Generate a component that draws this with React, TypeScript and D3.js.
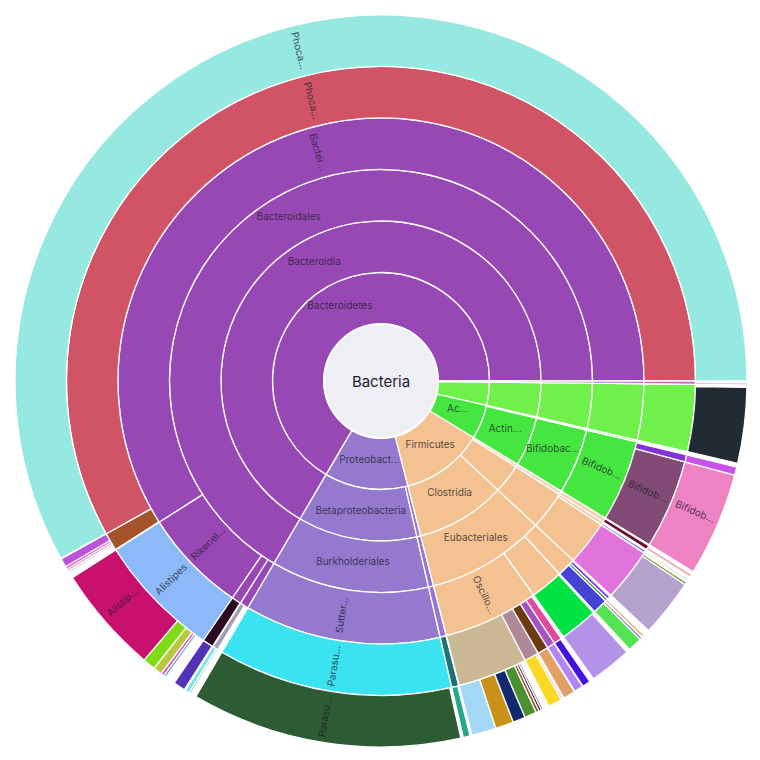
import React, { useMemo } from "react";
import * as d3 from "d3";

// ---------- data (abundance units: total 3600) ----------
const rootName = "Bacteria";
const rootTotal = 3600;

type Row3 = [string, string, number];

const phyla: Row3[] = [
  ["Bacteroidetes", "Bacteria", 2396],
  ["Proteobacteria", "Bacteria", 448],
  ["Firmicutes", "Bacteria", 442],
  ["Actinobacteria", "Bacteria", 184],
  ["Verrucomicrobia", "Bacteria", 124],
  ["Desulfobacterota", "Bacteria", 6],
];

const classes: Row3[] = [
  ["Bacteroidia", "Bacteroidetes", 2396],
  ["Betaproteobacteria", "Proteobacteria", 434],
  ["Gammaproteobacteria", "Proteobacteria", 14],
  ["Clostridia", "Firmicutes", 326],
  ["Bacilli", "Firmicutes", 106],
  ["Erysipelotrichia", "Firmicutes", 10],
  ["Actinomycetia", "Actinobacteria", 180],
  ["Coriobacteriia", "Actinobacteria", 4],
  ["Verrucomicrobiae", "Verrucomicrobia", 124],
  ["Desulfovibrionia", "Desulfobacterota", 6],
];

const orders: Row3[] = [
  ["Bacteroidales", "Bacteroidia", 2396],
  ["Burkholderiales", "Betaproteobacteria", 434],
  ["Enterobacterales", "Gammaproteobacteria", 14],
  ["Eubacteriales", "Clostridia", 326],
  ["Lactobacillales", "Bacilli", 106],
  ["Erysipelotrichales", "Erysipelotrichia", 10],
  ["Bifidobacteriales", "Actinomycetia", 180],
  ["Coriobacteriales", "Coriobacteriia", 4],
  ["Verrucomicrobiales", "Verrucomicrobiae", 124],
  ["Desulfovibrionales", "Desulfovibrionia", 6],
];

const families: Row3[] = [
  ["Bacteroidaceae", "Bacteroidales", 2125],
  ["Rikenellaceae", "Bacteroidales", 231],
  ["Tannerellaceae", "Bacteroidales", 21],
  ["Barnesiellaceae", "Bacteroidales", 19],
  ["Sutterellaceae", "Burkholderiales", 434],
  ["Enterobacteriaceae", "Enterobacterales", 14],
  ["Oscillospiraceae", "Eubacteriales", 211],
  ["Lachnospiraceae", "Eubacteriales", 73],
  ["Ruminococcaceae", "Eubacteriales", 42],
  ["Streptococcaceae", "Lactobacillales", 99],
  ["Lactobacillaceae", "Lactobacillales", 7],
  ["Erysipelotrichaceae", "Erysipelotrichales", 10],
  ["Bifidobacteriaceae", "Bifidobacteriales", 180],
  ["Eggerthellaceae", "Coriobacteriales", 4],
  ["Akkermansiaceae", "Verrucomicrobiales", 124],
  ["Desulfovibrionaceae", "Desulfovibrionales", 6],
];

const genera: Row3[] = [
  ["Phocaeicola", "Bacteroidaceae", 2091],
  ["Bacteroides", "Bacteroidaceae", 33],
  ["Alistipes", "Rikenellaceae", 231],
  ["Parabacteroides", "Tannerellaceae", 20],
  ["Barnesiella", "Barnesiellaceae", 10],
  ["Parasutterella", "Sutterellaceae", 434],
  ["Escherichia", "Enterobacteriaceae", 13],
  ["Oscillibacter", "Oscillospiraceae", 129],
  ["Flavonifractor", "Oscillospiraceae", 27],
  ["Intestinimonas", "Oscillospiraceae", 20],
  ["Ruthenibacterium", "Oscillospiraceae", 15],
  ["Pseudoflavonifractor", "Oscillospiraceae", 15],
  ["Colidextribacter", "Oscillospiraceae", 3],
  ["Dysosmobacter", "Oscillospiraceae", 2],
  ["Blautia", "Lachnospiraceae", 70],
  ["Faecalibacterium", "Ruminococcaceae", 28],
  ["Ruminococcus", "Ruminococcaceae", 5],
  ["Gemmiger", "Ruminococcaceae", 6],
  ["Streptococcus", "Streptococcaceae", 98],
  ["Lactobacillus", "Lactobacillaceae", 4],
  ["Holdemanella", "Erysipelotrichaceae", 8],
  ["Bifidobacterium", "Bifidobacteriaceae", 165],
  ["Alloscardovia", "Bifidobacteriaceae", 13],
  ["Akkermansia", "Akkermansiaceae", 124],
  ["Bilophila", "Desulfovibrionaceae", 6],
];

const species: Row3[] = [
  ["Phocaeicola vulgatus", "Phocaeicola", 2090],
  ["Bacteroides uniformis", "Bacteroides", 14],
  ["Bacteroides ovatus", "Bacteroides", 4],
  ["Bacteroides fragilis", "Bacteroides", 4],
  ["Bacteroides caccae", "Bacteroides", 3],
  ["Alistipes putredinis", "Alistipes", 172],
  ["Alistipes onderdonkii", "Alistipes", 20],
  ["Alistipes shahii", "Alistipes", 14],
  ["Alistipes finegoldii", "Alistipes", 5],
  ["Alistipes indistinctus", "Alistipes", 4],
  ["Parabacteroides distasonis", "Parabacteroides", 19],
  ["Barnesiella intestinihominis", "Barnesiella", 7],
  ["Barnesiella viscericola", "Barnesiella", 3],
  ["Parasutterella excrementihominis", "Parasutterella", 430],
  ["Escherichia coli", "Escherichia", 11],
  ["Oscillibacter valericigenes", "Oscillibacter", 39],
  ["Oscillibacter ruminantium", "Oscillibacter", 29],
  ["Oscillibacter sp. ER4", "Oscillibacter", 20],
  ["Oscillibacter sp. PC13", "Oscillibacter", 19],
  ["Oscillibacter sp. 1-3", "Oscillibacter", 5],
  ["Oscillibacter sp. KLE1728", "Oscillibacter", 4],
  ["Oscillibacter sp. 57_20", "Oscillibacter", 3],
  ["Flavonifractor plautii", "Flavonifractor", 22],
  ["Flavonifractor sp. An10", "Flavonifractor", 3],
  ["Intestinimonas butyriciproducens", "Intestinimonas", 19],
  ["Ruthenibacterium lactatiformans", "Ruthenibacterium", 14],
  ["Pseudoflavonifractor capillosus", "Pseudoflavonifractor", 13],
  ["Colidextribacter massiliensis", "Colidextribacter", 2],
  ["Dysosmobacter welbionis", "Dysosmobacter", 2],
  ["Blautia wexlerae", "Blautia", 67],
  ["Faecalibacterium prausnitzii", "Faecalibacterium", 23],
  ["Faecalibacterium sp. A2", "Faecalibacterium", 4],
  ["Faecalibacterium sp. I3", "Faecalibacterium", 3],
  ["Ruminococcus bromii", "Ruminococcus", 4],
  ["Streptococcus salivarius", "Streptococcus", 92],
  ["Streptococcus parasanguinis", "Streptococcus", 4],
  ["Lactobacillus rogosae", "Lactobacillus", 3],
  ["Holdemanella biformis", "Holdemanella", 5],
  ["Bifidobacterium longum", "Bifidobacterium", 165],
  ["Alloscardovia omnicolens", "Alloscardovia", 13],
  ["Akkermansia muciniphila", "Akkermansia", 120],
  ["Bilophila wadsworthia", "Bilophila", 3],
  ["Bilophila sp. 4_1_30", "Bilophila", 2],
];

// label texts as shown in the chart (truncated where the chart truncates)
const shownLabels: Record<string, string> = {
  Bacteroidetes: "Bacteroidetes",
  Proteobacteria: "Proteobact...",
  Firmicutes: "Firmicutes",
  Actinobacteria: "Ac...",
  Bacteroidia: "Bacteroidia",
  Betaproteobacteria: "Betaproteobacteria",
  Clostridia: "Clostridia",
  Actinomycetia: "Actin...",
  Bacteroidales: "Bacteroidales",
  Burkholderiales: "Burkholderiales",
  Eubacteriales: "Eubacteriales",
  Bifidobacteriales: "Bifidobac...",
  Bacteroidaceae: "Bacter...",
  Rikenellaceae: "Rikenel...",
  Sutterellaceae: "Sutter...",
  Oscillospiraceae: "Oscillo...",
  Bifidobacteriaceae: "Bifidob...",
  Phocaeicola: "Phoca...",
  Alistipes: "Alistipes",
  Parasutterella: "Parasu...",
  Bifidobacterium: "Bifidob...",
  "Phocaeicola vulgatus": "Phoca...",
  "Alistipes putredinis": "Alistip...",
  "Parasutterella excrementihominis": "Parasu...",
  "Bifidobacterium longum": "Bifidob...",
};

const PURPLE = "#9848b4";
const LAVENDER = "#9479cf";
const PEACH = "#f4c191";
const GREEN = "#46e640";
const LIGHTGREEN = "#6ff04b";

const colors: Record<string, string> = {
  Bacteria: "#eeeef5",
  Bacteroidetes: PURPLE, Bacteroidia: PURPLE, Bacteroidales: PURPLE,
  Bacteroidaceae: PURPLE, Rikenellaceae: PURPLE, Tannerellaceae: PURPLE, Barnesiellaceae: PURPLE,
  Phocaeicola: "#d05466", "Phocaeicola vulgatus": "#96e9e0",
  Bacteroides: "#a4532a", "Bacteroides uniformis": "#bb52dc", "Bacteroides ovatus": "#e23ccc",
  "Bacteroides fragilis": "#f08ab8", "Bacteroides caccae": "#a8c4ec",
  Alistipes: "#8cb9f7", "Alistipes putredinis": "#c8116f", "Alistipes onderdonkii": "#7fdb16",
  "Alistipes shahii": "#b9c93e", "Alistipes finegoldii": "#f246d2", "Alistipes indistinctus": "#5aa9ac",
  Parabacteroides: "#2b0b22", "Parabacteroides distasonis": "#5233b6",
  Barnesiella: "#a49fb6", "Barnesiella intestinihominis": "#74e2f2", "Barnesiella viscericola": "#9fbf8e",
  Proteobacteria: LAVENDER, Betaproteobacteria: LAVENDER, Burkholderiales: LAVENDER, Sutterellaceae: LAVENDER,
  Gammaproteobacteria: LAVENDER, Enterobacterales: LAVENDER, Enterobacteriaceae: LAVENDER,
  Parasutterella: "#3be3f0", "Parasutterella excrementihominis": "#2d5b34",
  Escherichia: "#1b7372", "Escherichia coli": "#22a98a",
  Firmicutes: PEACH, Clostridia: PEACH, Eubacteriales: PEACH, Oscillospiraceae: PEACH,
  Lachnospiraceae: PEACH, Ruminococcaceae: PEACH, Bacilli: PEACH, Lactobacillales: PEACH,
  Streptococcaceae: PEACH, Lactobacillaceae: PEACH,
  Erysipelotrichia: "#f6d2b2", Erysipelotrichales: "#f6d2b2", Erysipelotrichaceae: "#f6d2b2",
  Oscillibacter: "#cbb894",
  "Oscillibacter valericigenes": "#a3d8f7", "Oscillibacter ruminantium": "#ca911a",
  "Oscillibacter sp. ER4": "#12296e", "Oscillibacter sp. PC13": "#4b9131",
  "Oscillibacter sp. 1-3": "#a1522f", "Oscillibacter sp. KLE1728": "#1d1a52", "Oscillibacter sp. 57_20": "#8a5a36",
  Flavonifractor: "#b08898", "Flavonifractor plautii": "#f9d923", "Flavonifractor sp. An10": "#f2a2a2",
  Intestinimonas: "#6c3b12", "Intestinimonas butyriciproducens": "#e2a064",
  Ruthenibacterium: "#a553c3", "Ruthenibacterium lactatiformans": "#b384f6",
  Pseudoflavonifractor: "#e24a9e", "Pseudoflavonifractor capillosus": "#4112e0",
  Colidextribacter: "#c6a978", "Colidextribacter massiliensis": "#45e486",
  Dysosmobacter: "#8a5d26", "Dysosmobacter welbionis": "#86e6e6",
  Blautia: "#02e243", "Blautia wexlerae": "#b393e8",
  Faecalibacterium: "#4443d4", "Faecalibacterium prausnitzii": "#55e356",
  "Faecalibacterium sp. A2": "#9163b3", "Faecalibacterium sp. I3": "#a26cc2",
  Ruminococcus: "#229544", "Ruminococcus bromii": "#d3a563",
  Gemmiger: "#9333e2",
  Streptococcus: "#e174da", "Streptococcus salivarius": "#b5a3cd", "Streptococcus parasanguinis": "#7b8b22",
  Lactobacillus: "#3a3ad9", "Lactobacillus rogosae": "#aee3a4",
  Holdemanella: "#6c0c31", "Holdemanella biformis": "#f2a4aa",
  Actinobacteria: GREEN, Actinomycetia: GREEN, Bifidobacteriales: GREEN, Bifidobacteriaceae: GREEN,
  Coriobacteriia: LIGHTGREEN, Coriobacteriales: LIGHTGREEN, Eggerthellaceae: LIGHTGREEN,
  Bifidobacterium: "#814b75", "Bifidobacterium longum": "#ee83c3",
  Alloscardovia: "#8431da", "Alloscardovia omnicolens": "#c852ea",
  Verrucomicrobia: LIGHTGREEN, Verrucomicrobiae: LIGHTGREEN, Verrucomicrobiales: LIGHTGREEN,
  Akkermansiaceae: LIGHTGREEN, Akkermansia: LIGHTGREEN, "Akkermansia muciniphila": "#202b34",
  Desulfobacterota: "#c466c8", Desulfovibrionia: "#c466c8", Desulfovibrionales: "#c466c8",
  Desulfovibrionaceae: "#c466c8", Bilophila: "#c466c8",
  "Bilophila wadsworthia": "#d6409e", "Bilophila sp. 4_1_30": "#f29ac4",
};

// ---------- layout ----------
const W = 744;
const H = 744;
const CX = 373;
const CY = 373;
const R0 = 57;
const RING = 51.5;

type Row = { id: string; parent: string; value: number };

export default function App() {
  const nodes = useMemo(() => {
    const rows: Row[] = [{ id: rootName, parent: "", value: rootTotal }];
    [phyla, classes, orders, families, genera, species].forEach((rank) =>
      rank.forEach(([id, parent, value]) => rows.push({ id, parent, value }))
    );
    const root = d3
      .stratify<Row>()
      .id((d) => d.id)
      .parentId((d) => (d.parent ? d.parent : null))(rows);
    // branch values are totals: children may not fill the parent
    root.each((n: any) => {
      n.value = n.data.value;
    });
    d3.partition<Row>().size([360, 1])(root as any);
    return (root as any).descendants() as d3.HierarchyRectangularNode<Row>[];
  }, []);

  const angle = d3.scaleLinear().domain([0, 360]).range([Math.PI / 2, Math.PI / 2 - 2 * Math.PI]);
  const radius = d3.scaleLinear().domain([1, 7]).range([R0, R0 + 6 * RING]);

  const arc = d3
    .arc<d3.HierarchyRectangularNode<Row>>()
    .startAngle((d) => angle(d.x1))
    .endAngle((d) => angle(d.x0))
    .innerRadius((d) => radius(d.depth))
    .outerRadius((d) => radius(d.depth + 1));

  const font = "Inter, 'DejaVu Sans', sans-serif";

  return (
    <svg width={W} height={H} style={{ display: "block" }}>
      <g transform={`translate(${CX},${CY})`}>
        {nodes
          .filter((n) => n.depth > 0)
          .map((n) => (
            <path
              key={n.data.id}
              d={arc(n) || ""}
              fill={colors[n.data.id] || "#ccc"}
              stroke="#ffffff"
              strokeWidth={1.3}
              strokeLinejoin="round"
            />
          ))}
        <circle r={R0} fill={colors[rootName]} stroke="#ffffff" strokeWidth={2} />
        <text
          textAnchor="middle"
          dominantBaseline="central"
          fontFamily={font}
          fontSize={15}
          fill="#1e1e2c"
        >
          {rootName}
        </text>
        {nodes
          .filter((n) => n.depth > 0 && shownLabels[n.data.id])
          .map((n) => {
            const mid = (n.x0 + n.x1) / 2;
            const th = (mid * Math.PI) / 180;
            const r = (radius(n.depth) + radius(n.depth + 1)) / 2;
            const x = r * Math.cos(th);
            const y = -r * Math.sin(th);
            let rot = 0;
            if (n.depth >= 4) {
              rot = -mid;
              while (rot <= -180) rot += 360;
              while (rot > 180) rot -= 360;
              if (rot > 90) rot -= 180;
              if (rot < -90) rot += 180;
            }
            return (
              <text
                key={"t" + n.data.id}
                transform={`translate(${x},${y}) rotate(${rot})`}
                textAnchor="middle"
                fontFamily={font}
                fontSize={10}
                fill="#1c1c2a"
                fillOpacity={0.78}
              >
                {shownLabels[n.data.id]}
              </text>
            );
          })}
      </g>
    </svg>
  );
}
